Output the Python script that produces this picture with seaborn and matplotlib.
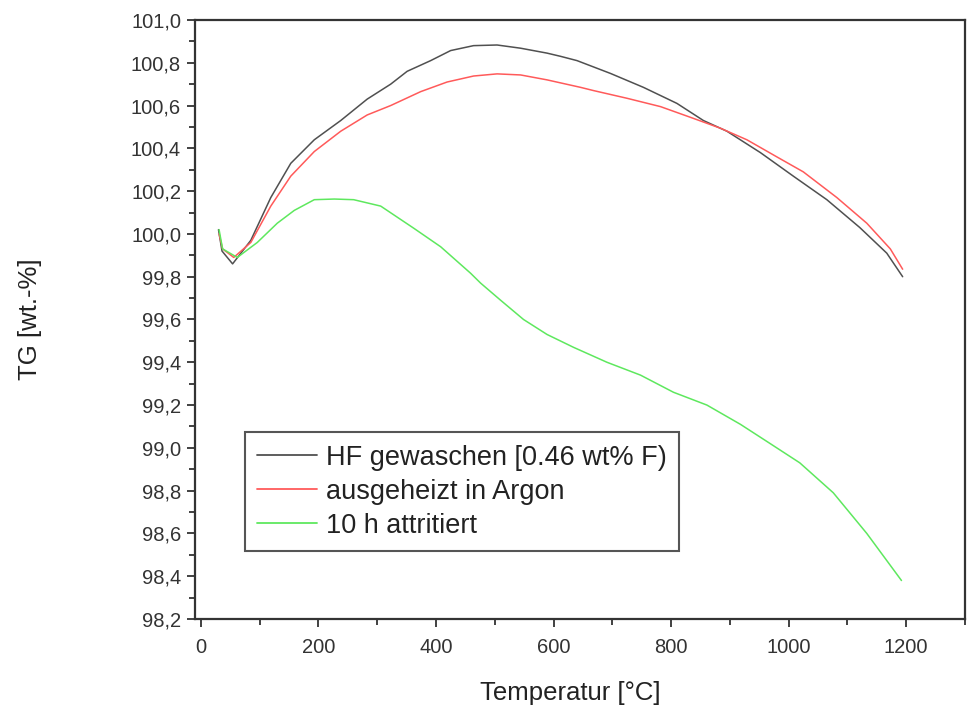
import numpy as np
import pandas as pd
import matplotlib
matplotlib.use("Agg")
import matplotlib.pyplot as plt
from matplotlib.ticker import MultipleLocator, FuncFormatter
import seaborn as sns

# ---- data ----
series_names = ["HF gewaschen [0.46 wt% F)", "ausgeheizt in Argon", "10 h attritiert"]

hf_x = [30, 36, 54, 85, 119, 153, 193, 238, 283, 323, 351, 391, 425, 464, 504, 544,
        589, 612, 640, 697, 753, 810, 855, 895, 952, 1008, 1065, 1121, 1167, 1194]
hf_y = [100.02, 99.92, 99.86, 99.97, 100.17, 100.33, 100.44, 100.53, 100.63, 100.70,
        100.76, 100.81, 100.857, 100.88, 100.883, 100.868, 100.845, 100.83, 100.81,
        100.75, 100.685, 100.61, 100.53, 100.48, 100.38, 100.27, 100.16, 100.03, 99.91,
        99.80]

ar_x = [31, 37, 56, 85, 119, 153, 193, 238, 283, 323, 374, 419, 464, 504, 544, 589,
        646, 668, 725, 782, 838, 884, 929, 980, 1025, 1082, 1133, 1173, 1194]
ar_y = [100.00, 99.93, 99.89, 99.96, 100.13, 100.27, 100.385, 100.48, 100.556, 100.60,
        100.665, 100.71, 100.738, 100.748, 100.743, 100.72, 100.685, 100.67, 100.634,
        100.595, 100.54, 100.494, 100.44, 100.36, 100.29, 100.17, 100.05, 99.93, 99.835]

at_x = [31, 37, 62, 96, 130, 159, 193, 227, 260, 306, 362, 408, 459, 476, 510, 549,
        589, 634, 691, 748, 804, 861, 918, 963, 1019, 1076, 1133, 1192]
at_y = [100.02, 99.93, 99.89, 99.96, 100.05, 100.11, 100.16, 100.163, 100.16, 100.13,
        100.027, 99.94, 99.816, 99.77, 99.69, 99.60, 99.53, 99.47, 99.40, 99.34, 99.26,
        99.20, 99.11, 99.03, 98.93, 98.79, 98.60, 98.38]

colors = ["#505050", "#ff5a5a", "#5ee85e"]

df = pd.concat([
    pd.DataFrame({"T": hf_x, "TG": hf_y, "Probe": series_names[0]}),
    pd.DataFrame({"T": ar_x, "TG": ar_y, "Probe": series_names[1]}),
    pd.DataFrame({"T": at_x, "TG": at_y, "Probe": series_names[2]}),
], ignore_index=True)

sns.set_style("white")
plt.rcParams["font.family"] = ["Liberation Sans", "DejaVu Sans"]

fig = plt.figure(figsize=(9.7, 7.13), dpi=100)
ax = fig.add_axes([0.201, 0.1318, 0.7938, 0.8402])

sns.lineplot(data=df, x="T", y="TG", hue="Probe", hue_order=series_names,
             palette=dict(zip(series_names, colors)), estimator=None, sort=True,
             linewidth=1.1, ax=ax)

ax.set_xlim(-10, 1300)
ax.set_ylim(98.2, 101.0)

ax.xaxis.set_major_locator(MultipleLocator(200))
ax.xaxis.set_minor_locator(MultipleLocator(100))
ax.yaxis.set_major_locator(MultipleLocator(0.2))
ax.yaxis.set_minor_locator(MultipleLocator(0.1))
ax.yaxis.set_major_formatter(FuncFormatter(lambda v, p: f"{v:.1f}".replace(".", ",")))

ax.tick_params(axis="both", which="major", direction="out", length=6, width=1.3,
               color="#333333", labelsize=14.5, labelcolor="#333333",
               top=False, right=False, bottom=True, left=True)
ax.tick_params(axis="y", which="major", pad=4)
ax.tick_params(axis="x", which="major", pad=8)
ax.tick_params(axis="both", which="minor", direction="out", length=4, width=1.3,
               color="#333333", top=False, right=False, bottom=True, left=True)

for s in ax.spines.values():
    s.set_color("#333333")
    s.set_linewidth(1.6)

ax.set_xlabel("Temperatur [°C]", fontsize=18.5, color="#222222")
ax.set_ylabel("TG [wt.-%]", fontsize=18.5, color="#222222")
ax.xaxis.set_label_coords(0.488, -0.103)
ax.yaxis.set_label_coords(-0.199, 0.5)

leg = ax.legend(loc="lower left", bbox_to_anchor=(0.065, 0.1135), fontsize=19.5,
                frameon=True, fancybox=False, framealpha=1, edgecolor="#555555",
                handlelength=2.2, handletextpad=0.33, labelspacing=0.3,
                borderpad=0.45, borderaxespad=0, title=None)
leg.get_frame().set_linewidth(1.5)
for line in leg.get_lines():
    line.set_linewidth(1.3)
for t in leg.get_texts():
    t.set_color("#222222")

fig.savefig("out.png", dpi=100)
